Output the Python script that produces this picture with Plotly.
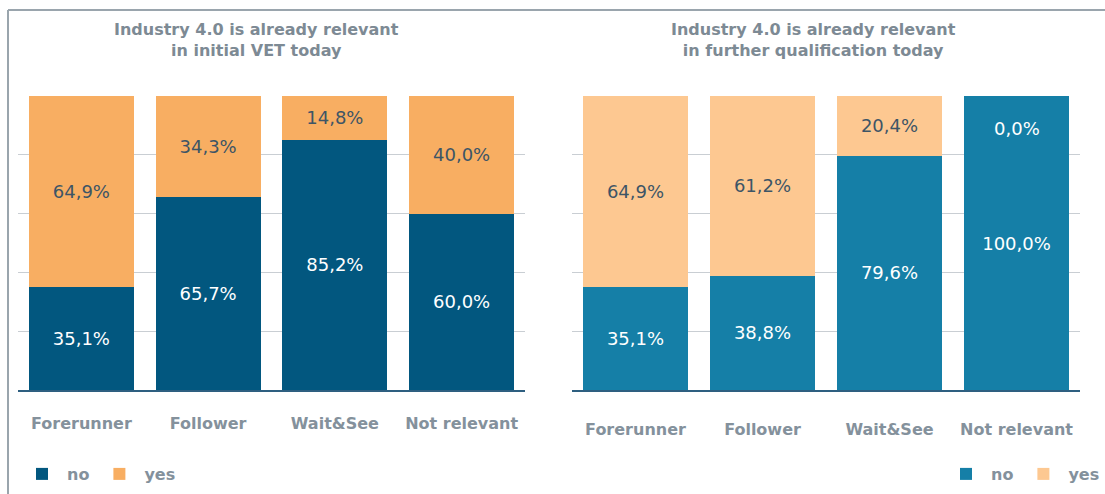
import plotly.graph_objects as go

categories = ["Forerunner", "Follower", "Wait&See", "Not relevant"]
vet_no = [35.1, 65.7, 85.2, 60.0]
vet_yes = [64.9, 34.3, 14.8, 40.0]
fq_no = [35.1, 38.8, 79.6, 100.0]
fq_yes = [64.9, 61.2, 20.4, 0.0]
title_vet = "Industry 4.0 is already relevant<br>in initial VET today"
title_fq = "Industry 4.0 is already relevant<br>in further qualification today"
y_ticks = [0, 20, 40, 60, 80, 100]

FONT = "DejaVu Sans"
LBL_DARK = "#3d5566"
GRAY = "#84919c"


def fmt(v):
    return f"{v:.1f}%".replace(".", ",")


def lbls(vals):
    return [fmt(v) if v > 0 else "" for v in vals]


fig = go.Figure()

panels = [
    ("x", "y", vet_no, vet_yes, "#02577f", "#f8ae62", "legend"),
    ("x2", "y2", fq_no, fq_yes, "#157fa7", "#fdc891", "legend2"),
]
for xa, ya, no, yes, cno, cyes, lg in panels:
    fig.add_trace(go.Bar(
        x=categories, y=no, name="no", marker=dict(color=cno, line=dict(width=0)),
        text=lbls(no), textposition="inside", insidetextanchor="middle",
        textfont=dict(color="white", size=18, family=FONT), textangle=0,
        xaxis=xa, yaxis=ya, legend=lg, hoverinfo="skip"))
    fig.add_trace(go.Bar(
        x=categories, y=yes, name="yes", marker=dict(color=cyes, line=dict(width=0)),
        text=lbls(yes), textposition="inside", insidetextanchor="middle",
        textfont=dict(color=LBL_DARK, size=18, family=FONT), textangle=0,
        xaxis=xa, yaxis=ya, legend=lg, hoverinfo="skip"))

# zero-value label drawn at top of the full bar
for i, v in enumerate(fq_yes):
    if v == 0:
        fig.add_annotation(x=categories[i], y=89, xref="x2", yref="y2", text=fmt(v),
                           showarrow=False, font=dict(color="white", size=18, family=FONT))

W, H = 1105, 494
def px(x):
    return x / W
def py(y):
    return 1 - y / H

axis_common = dict(type="category", showgrid=False, showline=True, linecolor="#2e5f80",
                   linewidth=2, ticks="",
                   tickfont=dict(size=16, color=GRAY, family=FONT, weight="bold"),
                   range=[-0.5, 3.5], fixedrange=True)
yaxis_common = dict(range=[0, 100], tickvals=y_ticks, showticklabels=False, showgrid=True,
                    gridcolor="#c9ced3", gridwidth=1, zeroline=False, showline=False)

legend_common = dict(orientation="h", yanchor="middle", traceorder="normal",
                     font=dict(size=16, color=GRAY, family=FONT, weight="bold"), itemwidth=40,
                     bgcolor="rgba(0,0,0,0)")

fig.update_layout(
    width=W, height=H, margin=dict(l=0, r=0, t=0, b=0),
    paper_bgcolor="white", plot_bgcolor="white",
    barmode="stack", bargap=0.17,
    font=dict(family=FONT, color=GRAY),
    xaxis=dict(domain=[px(18), px(525)], anchor="y", ticklabelstandoff=18, **axis_common),
    xaxis2=dict(domain=[px(572), px(1080)], anchor="y2", ticklabelstandoff=24, **axis_common),
    yaxis=dict(domain=[py(390), py(96)], anchor="x", **yaxis_common),
    yaxis2=dict(domain=[py(390), py(96)], anchor="x2", **yaxis_common),
    legend=dict(x=px(17), y=py(474), xanchor="left", **legend_common),
    legend2=dict(x=px(1105), y=py(474), xanchor="right", **legend_common),
    showlegend=True,
)

title_font = dict(size=16, color="#7d8a94", family=FONT, weight="bold")
fig.add_annotation(x=px(256), y=py(40), xref="paper", yref="paper", text=title_vet,
                   xanchor="center", yanchor="middle",
                   showarrow=False, font=title_font, align="center")
fig.add_annotation(x=px(813), y=py(40), xref="paper", yref="paper", text=title_fq,
                   xanchor="center", yanchor="middle",
                   showarrow=False, font=title_font, align="center")

# frame lines of the screenshot
fig.add_shape(type="line", xref="paper", yref="paper", x0=px(8), x1=1, y0=py(10), y1=py(10),
              line=dict(color="#9aa5ad", width=2))
fig.add_shape(type="line", xref="paper", yref="paper", x0=px(8), x1=px(8), y0=py(10), y1=0,
              line=dict(color="#9aa5ad", width=2))

fig.write_html("out.html")
